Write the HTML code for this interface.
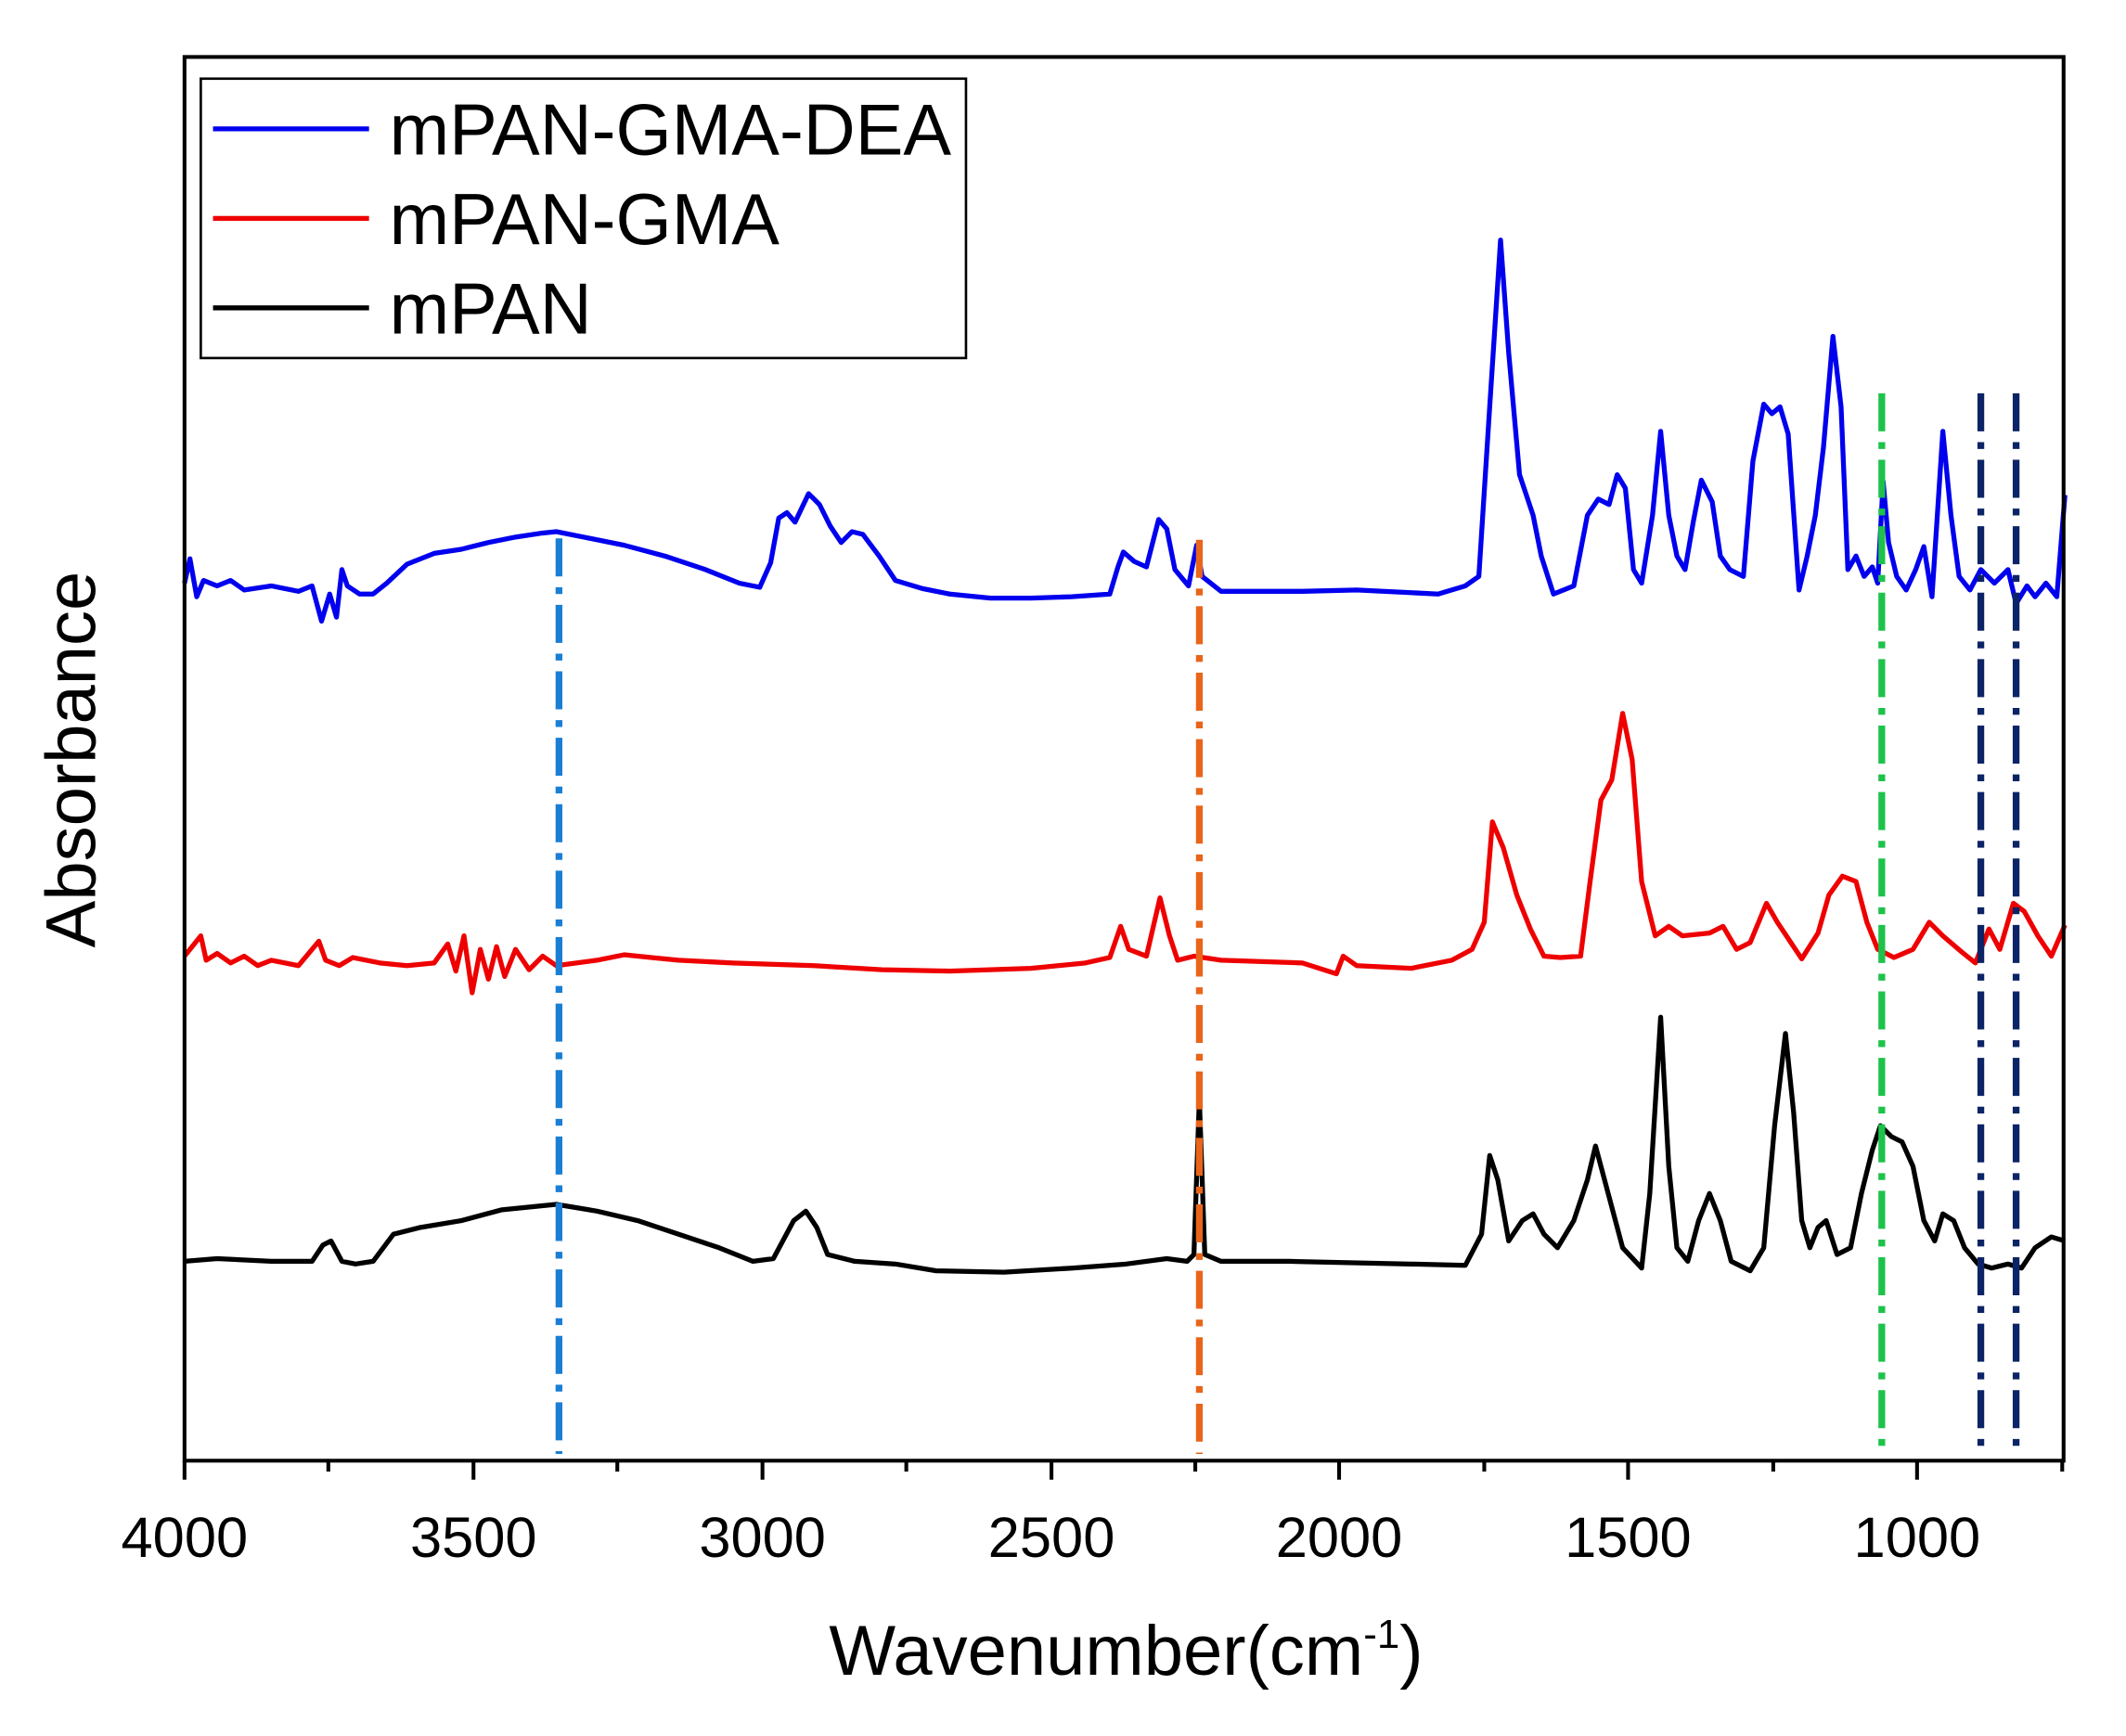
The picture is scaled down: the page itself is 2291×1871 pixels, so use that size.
<!DOCTYPE html>
<html><head><meta charset="utf-8"><style>html,body{margin:0;padding:0;background:#fff}svg{display:block}</style></head>
<body>
<svg width="2291" height="1871" viewBox="0 0 1567 1280" preserveAspectRatio="none" xmlns="http://www.w3.org/2000/svg" font-family="Liberation Sans, Arial, sans-serif">
<rect width="1567" height="1280" fill="#fff"/>
<g fill="none" stroke-linejoin="round">
<polyline stroke="#0000ee" stroke-width="3.6" points="136,430 140,412 145,440 150,428 160,432 170,428 180,435 200,432 220,436 230,432 237,458 243,438 248,455 252,420 256,432 265,438 275,438 285,430 300,416 320,408 340,405 360,400 380,396 400,393 410,392 430,396 460,402 490,410 520,420 545,430 560,433 568,415 574,382 580,378 586,385 596,364 604,372 612,388 620,400 628,392 636,394 648,410 660,428 680,434 700,438 730,441 760,441 790,440 818,438 824,418 828,407 836,414 845,418 854,383 860,390 866,420 876,432 882,402 886,425 900,436 960,436 1000,435 1040,437 1060,438 1080,432 1090,425 1098,300 1106,177 1112,260 1120,350 1130,380 1136,410 1145,438 1160,432 1170,380 1178,368 1186,372 1192,350 1198,360 1204,420 1210,430 1218,380 1224,318 1230,380 1236,410 1242,420 1248,385 1254,354 1262,370 1268,410 1275,420 1285,425 1292,340 1300,298 1306,305 1312,300 1318,320 1326,435 1332,410 1338,380 1344,330 1351,248 1357,300 1362,420 1368,410 1374,425 1380,418 1384,430 1388,355 1392,400 1398,425 1405,435 1412,420 1418,403 1424,440 1432,318 1438,380 1444,425 1452,435 1460,420 1470,430 1480,420 1486,445 1494,432 1500,440 1508,430 1516,440 1522,365"/>
<polyline stroke="#ee0000" stroke-width="3.6" points="136,705 140,700 148,690 152,708 160,703 170,710 180,705 190,712 200,708 220,712 235,694 240,708 250,712 260,706 280,710 300,712 320,710 330,696 336,716 342,690 348,732 354,700 360,722 366,698 372,720 380,700 390,715 400,705 410,712 440,708 460,704 480,706 500,708 540,710 600,712 650,715 700,716 760,714 800,710 818,706 826,683 832,700 845,705 855,662 862,690 868,708 880,705 900,708 960,710 985,718 990,705 1000,712 1040,714 1070,708 1085,700 1094,680 1100,606 1108,625 1118,660 1128,685 1138,705 1150,706 1165,705 1172,650 1180,590 1188,575 1196,526 1203,560 1210,650 1220,690 1230,683 1240,690 1260,688 1270,683 1280,700 1290,695 1302,666 1310,680 1320,695 1328,707 1340,688 1348,660 1358,646 1368,650 1376,680 1384,700 1396,706 1410,700 1422,680 1432,690 1446,702 1456,710 1466,685 1474,700 1484,666 1492,672 1502,690 1512,705 1522,682"/>
<polyline stroke="#000" stroke-width="3.6" points="136,930 160,928 200,930 230,930 238,918 244,915 252,930 262,932 275,930 290,910 310,905 340,900 370,892 410,888 440,893 470,900 500,910 530,920 555,930 570,928 585,900 594,893 602,905 610,925 630,930 660,932 690,937 740,938 790,935 830,932 860,928 875,930 880,925 884,810 888,925 900,930 950,930 1040,932 1080,933 1092,910 1098,852 1104,870 1112,915 1122,900 1130,895 1138,910 1148,920 1160,900 1170,870 1176,845 1184,875 1196,920 1210,935 1216,880 1224,750 1230,860 1236,920 1244,930 1252,900 1260,880 1268,900 1276,930 1290,937 1300,920 1308,830 1316,762 1322,820 1328,900 1334,920 1340,905 1346,900 1354,925 1364,920 1372,880 1380,848 1386,830 1394,838 1402,842 1410,860 1418,900 1426,915 1432,895 1440,900 1448,920 1458,932 1468,935 1480,932 1490,935 1500,920 1512,912 1522,915"/>
<g stroke-width="5" stroke-dasharray="28 8 5 8">
<line x1="412" y1="397" x2="412" y2="1072" stroke="#1a7fd4"/>
<line x1="884" y1="398" x2="884" y2="1072" stroke="#e8651a"/>
<line x1="1387" y1="290" x2="1387" y2="1068" stroke="#1ec24a"/>
<line x1="1460" y1="290" x2="1460" y2="1068" stroke="#0c2466"/>
<line x1="1486" y1="290" x2="1486" y2="1068" stroke="#0c2466"/>
</g>
</g>
<rect x="136" y="42" width="1385" height="1035" fill="none" stroke="#000" stroke-width="2.8"/>
<g stroke="#000" stroke-width="2.8">
<line x1="136" y1="1077" x2="136" y2="1091"/><line x1="349" y1="1077" x2="349" y2="1091"/><line x1="562" y1="1077" x2="562" y2="1091"/><line x1="775" y1="1077" x2="775" y2="1091"/><line x1="987" y1="1077" x2="987" y2="1091"/><line x1="1200" y1="1077" x2="1200" y2="1091"/><line x1="1413" y1="1077" x2="1413" y2="1091"/>
<line x1="242" y1="1077" x2="242" y2="1085"/><line x1="455" y1="1077" x2="455" y2="1085"/><line x1="668" y1="1077" x2="668" y2="1085"/><line x1="881" y1="1077" x2="881" y2="1085"/><line x1="1094" y1="1077" x2="1094" y2="1085"/><line x1="1307" y1="1077" x2="1307" y2="1085"/><line x1="1520" y1="1077" x2="1520" y2="1085"/>
</g>
<g font-size="42" text-anchor="middle" fill="#000">
<text x="136" y="1148">4000</text><text x="349" y="1148">3500</text><text x="562" y="1148">3000</text><text x="775" y="1148">2500</text><text x="987" y="1148">2000</text><text x="1200" y="1148">1500</text><text x="1413" y="1148">1000</text>
</g>
<text x="830" y="1235" font-size="52" text-anchor="middle">Wavenumber(cm<tspan font-size="30" dy="-20">-1</tspan><tspan dy="20">)</tspan></text>
<text transform="translate(70,560) rotate(-90)" font-size="52" text-anchor="middle">Absorbance</text>
<rect x="148" y="58" width="564" height="206" fill="#fff" stroke="#000" stroke-width="1.8"/>
<line x1="157" y1="95" x2="272" y2="95" stroke="#0000ee" stroke-width="3.6"/>
<line x1="157" y1="161" x2="272" y2="161" stroke="#ee0000" stroke-width="3.6"/>
<line x1="157" y1="227" x2="272" y2="227" stroke="#000" stroke-width="3.6"/>
<g font-size="53" fill="#000">
<text x="287" y="114">mPAN-GMA-DEA</text>
<text x="287" y="180">mPAN-GMA</text>
<text x="287" y="246">mPAN</text>
</g>
</svg>
</body></html>
